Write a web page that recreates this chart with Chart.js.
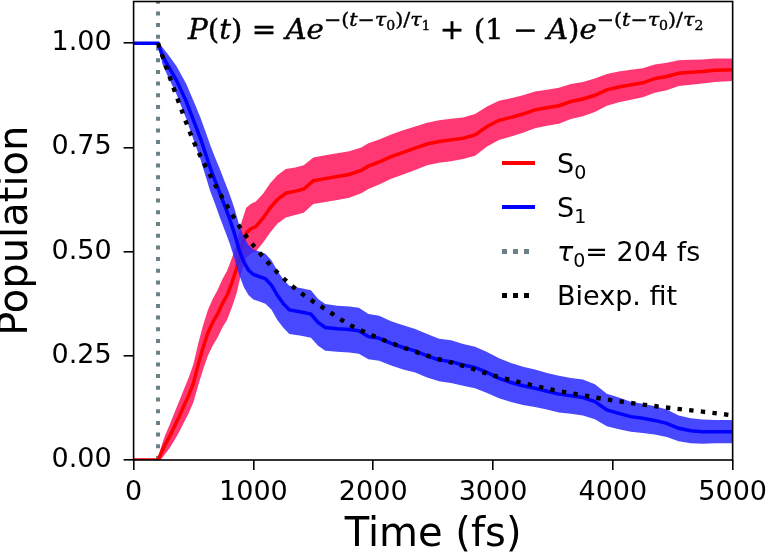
<!DOCTYPE html>
<html>
<head>
<meta charset="utf-8">
<script src="https://cdn.jsdelivr.net/npm/chart.js@4.4.1/dist/chart.umd.min.js"></script>
<style>
  html, body { margin: 0; padding: 0; background: #fff; }
  #wrap { position: relative; width: 774px; height: 558px; }
  #formula {
    position: absolute; left: 188px; top: 14px;
    font-family: "DejaVu Serif", serif; font-size: 27px; line-height: 32px;
    color: #000; -webkit-text-stroke: 0.4px #000;
    white-space: nowrap; transform-origin: 0 0;
  }
  #formula .sup { display: inline-block; font-size: 19px; position: relative; top: -13px; }
  #formula .sub { display: inline-block; font-size: 13px; position: relative; top: 4px; font-style: normal; }
  #legend {
    position: absolute; left: 502px; top: 141px;
    font-family: "DejaVu Sans", sans-serif; font-size: 27px; color: #000;
  }
  #legend .row { display: flex; align-items: center; height: 44px; }
  #legend .sw { display: inline-block; width: 33px; height: 4px; margin-right: 22px; }
  #legend .lsub { font-size: 19px; position: relative; top: 6px; }
</style>
</head>
<body>
<div id="wrap">
  <canvas id="chart" width="774" height="558"></canvas>
  <div id="formula"><i>P</i>(<i>t</i>) = <i>Ae</i><span class="sup">−(<i>t</i>−<i>τ</i><span class="sub">0</span>)/<i>τ</i><span class="sub">1</span></span> + (1 − <i>A</i>)<i>e</i><span class="sup">−(<i>t</i>−<i>τ</i><span class="sub">0</span>)/<i>τ</i><span class="sub">2</span></span></div>
  <div id="legend">
    <div class="row"><span class="sw" style="background: rgb(255, 0, 0);"></span><span>S<span class="lsub">0</span></span></div>
    <div class="row"><span class="sw" style="background: rgb(0, 0, 255);"></span><span>S<span class="lsub">1</span></span></div>
    <div class="row"><span class="sw" style="height: 5px; background: repeating-linear-gradient(to right, #6b7f86 0 5px, transparent 5px 11px);"></span><span><i>τ</i><span class="lsub">0</span>= 204 fs</span></div>
    <div class="row"><span class="sw" style="height: 5px; background: repeating-linear-gradient(to right, #000 0 5px, transparent 5px 11px);"></span><span>Biexp. fit</span></div>
  </div>
</div>
<script>
// S0 (ground state) population
const s0Time = [0, 204, 220, 260, 300, 340, 380, 420, 460, 500, 540, 580, 620, 660, 700, 740, 780, 820, 860, 900,
  940, 980, 1020, 1080, 1140, 1200, 1270, 1350, 1420, 1500, 1600, 1700, 1800, 1900, 1960, 2050, 2150, 2250, 2350, 2450,
  2550, 2650, 2750, 2850, 2950, 3050, 3150, 3250, 3350, 3450, 3550, 3650, 3750, 3850, 3950, 4050, 4150, 4250, 4350, 4450,
  4550, 4650, 4750, 4850, 5000];
const s0Pop = [0, 0, 0.01, 0.035, 0.056, 0.08, 0.104, 0.13, 0.155, 0.185, 0.23, 0.27, 0.305, 0.33, 0.35, 0.375, 0.395, 0.425, 0.46, 0.51,
  0.545, 0.555, 0.56, 0.58, 0.605, 0.625, 0.64, 0.645, 0.65, 0.67, 0.675, 0.68, 0.685, 0.695, 0.705, 0.715, 0.728, 0.738, 0.748, 0.758,
  0.764, 0.768, 0.772, 0.78, 0.8, 0.815, 0.822, 0.83, 0.84, 0.845, 0.85, 0.86, 0.866, 0.875, 0.888, 0.895, 0.9, 0.905, 0.915, 0.92,
  0.928, 0.93, 0.932, 0.935, 0.936];
const s0Err = [0, 0, 0.012, 0.022, 0.028, 0.033, 0.037, 0.04, 0.043, 0.046, 0.05, 0.053, 0.055, 0.056, 0.057, 0.058, 0.059, 0.059, 0.06, 0.06,
  0.06, 0.06, 0.06, 0.059, 0.059, 0.058, 0.058, 0.057, 0.057, 0.056, 0.056, 0.056, 0.056, 0.055, 0.055, 0.054, 0.053, 0.053, 0.052, 0.051,
  0.051, 0.051, 0.05, 0.05, 0.048, 0.047, 0.046, 0.045, 0.044, 0.043, 0.043, 0.042, 0.041, 0.04, 0.038, 0.037, 0.036, 0.035, 0.034, 0.033,
  0.031, 0.03, 0.029, 0.028, 0.027];

// S1 (excited state) population
const s1Time = [0, 204, 240, 280, 320, 360, 400, 440, 480, 520, 560, 600, 640, 680, 720, 760, 800, 840, 880, 920,
  960, 1000, 1050, 1100, 1150, 1200, 1250, 1300, 1400, 1480, 1540, 1600, 1700, 1800, 1880, 1960, 2050, 2150, 2250, 2350,
  2450, 2550, 2650, 2750, 2850, 2950, 3050, 3150, 3250, 3350, 3450, 3550, 3650, 3750, 3850, 3950, 4050, 4150, 4250, 4350,
  4450, 4550, 4650, 4750, 4850, 5000];
const s1Pop = [1, 1, 0.97, 0.95, 0.93, 0.91, 0.885, 0.86, 0.83, 0.8, 0.77, 0.735, 0.7, 0.67, 0.64, 0.61, 0.58, 0.545, 0.505, 0.475,
  0.455, 0.445, 0.44, 0.435, 0.42, 0.395, 0.375, 0.36, 0.355, 0.35, 0.33, 0.318, 0.315, 0.313, 0.31, 0.296, 0.292, 0.28, 0.27, 0.262,
  0.25, 0.24, 0.236, 0.228, 0.222, 0.21, 0.196, 0.186, 0.178, 0.172, 0.165, 0.158, 0.154, 0.15, 0.14, 0.12, 0.112, 0.104, 0.1, 0.095,
  0.088, 0.076, 0.07, 0.068, 0.068, 0.068];
const s1Err = [0, 0, 0.02, 0.026, 0.03, 0.034, 0.038, 0.042, 0.045, 0.048, 0.05, 0.053, 0.055, 0.056, 0.058, 0.058, 0.059, 0.06, 0.06, 0.06,
  0.06, 0.06, 0.06, 0.06, 0.059, 0.059, 0.058, 0.058, 0.057, 0.057, 0.056, 0.056, 0.055, 0.055, 0.055, 0.054, 0.054, 0.053, 0.053, 0.052,
  0.052, 0.051, 0.051, 0.05, 0.05, 0.049, 0.048, 0.047, 0.046, 0.045, 0.044, 0.044, 0.043, 0.043, 0.042, 0.039, 0.038, 0.036, 0.035, 0.034,
  0.033, 0.031, 0.03, 0.029, 0.028, 0.028];

// biexponential fit, read at these times
const fitTime = [204, 300, 400, 500, 600, 700, 800, 900, 1000, 1200, 1400, 1600, 1800, 2000, 2250, 2500, 2750,
  3000, 3250, 3500, 3750, 4000, 4250, 4500, 4750, 5000];
const fitPop = [1.0, 0.92, 0.84, 0.765, 0.705, 0.65, 0.6, 0.553, 0.515, 0.45, 0.4, 0.362, 0.325, 0.298, 0.27, 0.246, 0.226,
  0.203, 0.185, 0.168, 0.155, 0.143, 0.133, 0.124, 0.116, 0.107];

const tau0 = 204;
const yTickValues = [0, 0.25, 0.5, 0.75, 1.0];

function toPoints(ts, ps) {
    return ts.map((t, i) => ({ x: t, y: ps[i] }));
}
function shifted(ps, err, sign) {
    return ps.map((p, i) => p + sign * err[i]);
}

const tickFont = { family: 'DejaVu Sans', size: 27 };
const titleFont = { family: 'DejaVu Sans', size: 40, lineHeight: 1 };

// frame around the plot area (matplotlib style box)
const framePlugin = {
    id: 'frame',
    afterDatasetsDraw(chart) {
        const { ctx, chartArea: a } = chart;
        ctx.save();
        ctx.strokeStyle = '#000';
        ctx.lineWidth = 1.6;
        ctx.strokeRect(a.left, a.top, a.right - a.left, a.bottom - a.top);
        ctx.restore();
    }
};

const datasets = [
    {
        label: 'Biexp. fit',
        data: toPoints(fitTime, fitPop),
        borderColor: '#000', borderWidth: 4.4, borderDash: [4.4, 7.3],
        cubicInterpolationMode: 'monotone', pointRadius: 0, fill: false, order: 0
    },
    {
        label: 'S1',
        data: toPoints(s1Time, s1Pop),
        borderColor: 'rgb(0, 0, 255)', borderWidth: 3.5,
        pointRadius: 0, fill: false, order: 1
    },
    {
        label: 'S1 upper',
        data: toPoints(s1Time, shifted(s1Pop, s1Err, 1)),
        borderWidth: 0, pointRadius: 0,
        backgroundColor: 'rgba(40, 40, 255, 0.85)', fill: '+1', order: 2
    },
    {
        label: 'S1 lower',
        data: toPoints(s1Time, shifted(s1Pop, s1Err, -1)),
        borderWidth: 0, pointRadius: 0, fill: false, order: 3
    },
    {
        label: 'S0',
        data: toPoints(s0Time, s0Pop),
        borderColor: 'rgb(255, 0, 0)', borderWidth: 3.5,
        pointRadius: 0, fill: false, order: 4
    },
    {
        label: 'S0 upper',
        data: toPoints(s0Time, shifted(s0Pop, s0Err, 1)),
        borderWidth: 0, pointRadius: 0,
        backgroundColor: 'rgba(255, 20, 90, 0.85)', fill: '+1', order: 5
    },
    {
        label: 'S0 lower',
        data: toPoints(s0Time, shifted(s0Pop, s0Err, -1)),
        borderWidth: 0, pointRadius: 0, fill: false, order: 6
    },
    {
        label: 'tau0',
        data: [{ x: tau0, y: 0 }, { x: tau0, y: 1.1 }],
        borderColor: '#6b7f86', borderWidth: 4, borderDash: [4, 7.7],
        pointRadius: 0, fill: false, order: 7
    }
];

const config = {
    type: 'line',
    data: { datasets: datasets },
    options: {
        responsive: false,
        animation: false,
        layout: { padding: { top: 1.5, right: 36, left: 0, bottom: 0 } },
        plugins: {
            legend: { display: false },
            tooltip: { enabled: false }
        },
        scales: {
            x: {
                type: 'linear', min: 0, max: 5000,
                ticks: {
                    stepSize: 1000, color: '#000', font: tickFont, padding: 7, maxRotation: 0,
                    callback: (v) => String(v)
                },
                grid: { drawOnChartArea: false, drawTicks: true, tickLength: 10, color: '#000', lineWidth: 1.6 },
                border: { display: false },
                title: { display: true, text: 'Time (fs)', color: '#000', font: titleFont, padding: { top: 0, bottom: 2 } },
                afterFit: (scale) => { scale.height = 98; }
            },
            y: {
                type: 'linear', min: 0, max: 1.1,
                afterBuildTicks: (scale) => { scale.ticks = yTickValues.map(v => ({ value: v })); },
                ticks: {
                    color: '#000', font: tickFont, padding: 12,
                    callback: (v) => Number(v).toFixed(2)
                },
                grid: { drawOnChartArea: false, drawTicks: true, tickLength: 10, color: '#000', lineWidth: 1.6 },
                border: { display: false },
                title: { display: true, text: 'Population', color: '#000', font: titleFont, padding: { top: -3, bottom: 0 } },
                afterFit: (scale) => {
                    scale.width = 133.6;
                    // no tick label sits at the top edge, so no extra room is needed there
                    scale.paddingTop = 0;
                    scale.paddingBottom = 0;
                }
            }
        }
    },
    plugins: [framePlugin]
};

new Chart(document.getElementById('chart'), config);

// stretch the formula to the width it has in the figure
const formula = document.getElementById('formula');
const targetWidth = 515;
formula.style.transform = 'scaleX(' + (targetWidth / formula.offsetWidth) + ')';
</script>
</body>
</html>
